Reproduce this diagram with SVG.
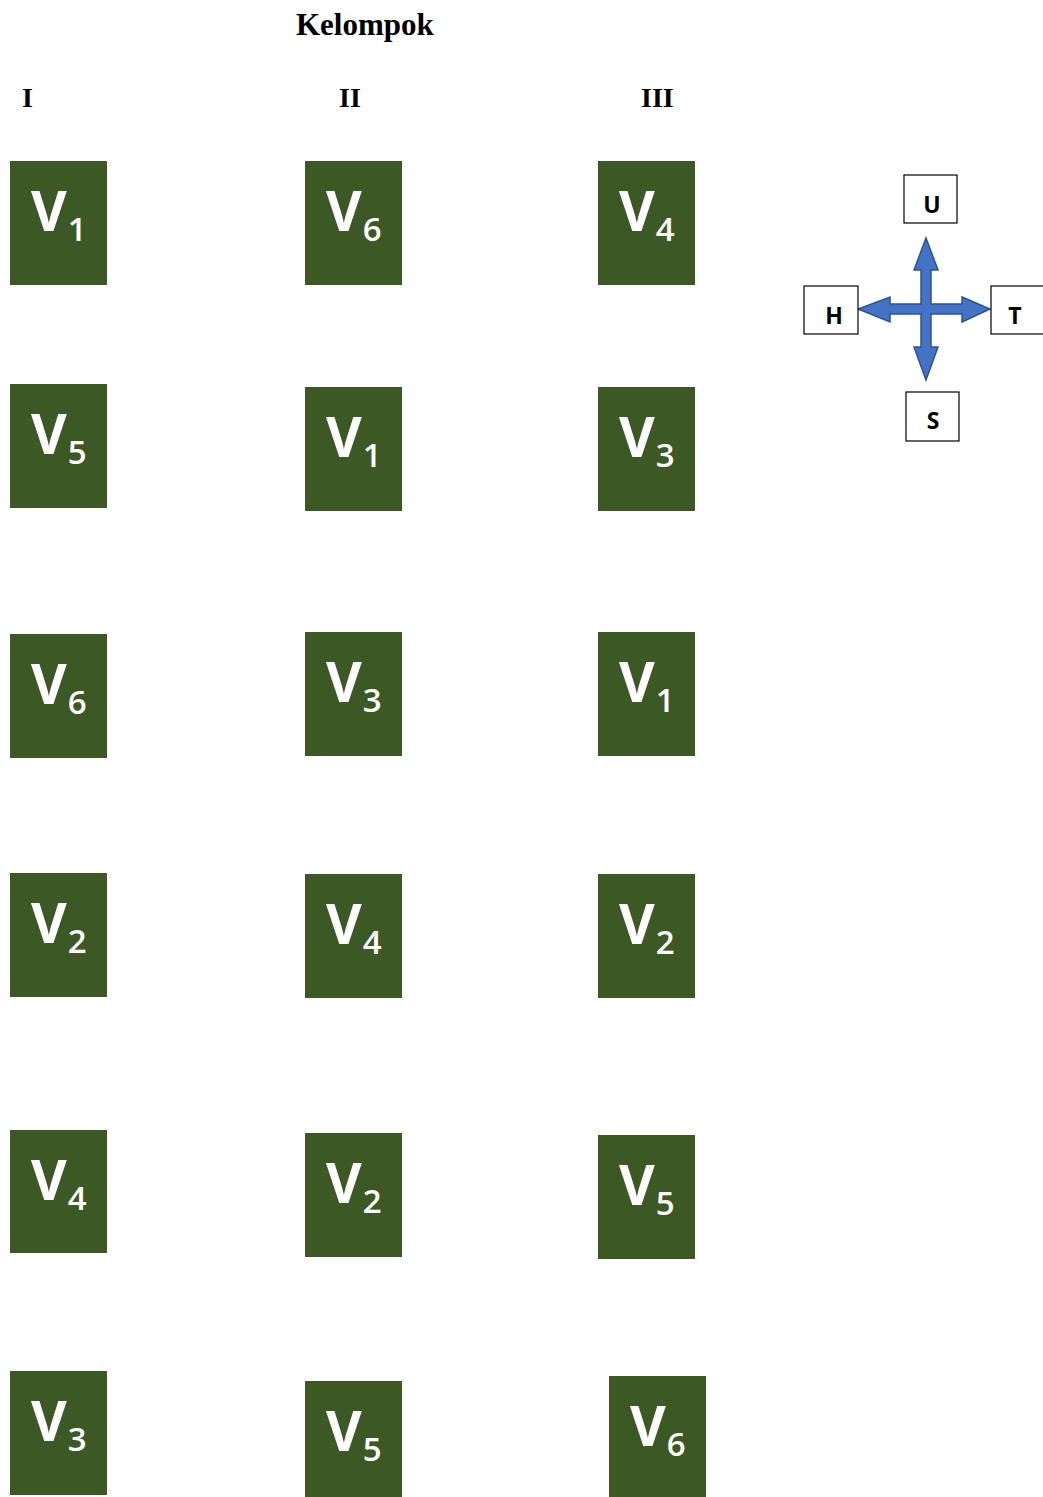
<svg xmlns="http://www.w3.org/2000/svg" width="1043" height="1497" viewBox="0 0 1043 1497">
<style>
.box{fill:#3b5825;}
.v{font-family:"Open Sans","Noto Sans",sans-serif;font-weight:700;font-size:55px;fill:#ffffff;}
.sub{font-weight:600;font-size:33px;}
.hdr{font-family:"Liberation Serif","Times New Roman",serif;font-weight:700;fill:#000;}
.dirbox{fill:#fff;stroke:#000;stroke-width:1.2;}
.dir{font-family:"Open Sans","Noto Sans",sans-serif;font-weight:700;font-size:23px;fill:#000;text-anchor:middle;}
</style>
<rect width="1043" height="1497" fill="#fff"/>
<g id="titles">
<text class="hdr" x="296" y="35" font-size="31">Kelompok</text>
<text class="hdr" x="22" y="107" font-size="28">I</text>
<text class="hdr" x="339" y="107" font-size="28">II</text>
<text class="hdr" x="641" y="107" font-size="28">III</text>
</g>
<g id="c1r1"><rect class="box" x="10" y="161" width="97" height="124"/><text class="v" x="31" y="231">V<tspan class="sub" dx="1" dy="10">1</tspan></text></g>
<g id="c1r2"><rect class="box" x="10" y="384" width="97" height="124"/><text class="v" x="31" y="454">V<tspan class="sub" dx="1" dy="10">5</tspan></text></g>
<g id="c1r3"><rect class="box" x="10" y="634" width="97" height="124"/><text class="v" x="31" y="704">V<tspan class="sub" dx="1" dy="10">6</tspan></text></g>
<g id="c1r4"><rect class="box" x="10" y="873" width="97" height="124"/><text class="v" x="31" y="943">V<tspan class="sub" dx="1" dy="10">2</tspan></text></g>
<g id="c1r5"><rect class="box" x="10" y="1130" width="97" height="123"/><text class="v" x="31" y="1200">V<tspan class="sub" dx="1" dy="10">4</tspan></text></g>
<g id="c1r6"><rect class="box" x="10" y="1371" width="97" height="124"/><text class="v" x="31" y="1441">V<tspan class="sub" dx="1" dy="10">3</tspan></text></g>

<g id="c2r1"><rect class="box" x="305" y="161" width="97" height="124"/><text class="v" x="326" y="231">V<tspan class="sub" dx="1" dy="10">6</tspan></text></g>
<g id="c2r2"><rect class="box" x="305" y="387" width="97" height="124"/><text class="v" x="326" y="457">V<tspan class="sub" dx="1" dy="10">1</tspan></text></g>
<g id="c2r3"><rect class="box" x="305" y="632" width="97" height="124"/><text class="v" x="326" y="702">V<tspan class="sub" dx="1" dy="10">3</tspan></text></g>
<g id="c2r4"><rect class="box" x="305" y="874" width="97" height="124"/><text class="v" x="326" y="944">V<tspan class="sub" dx="1" dy="10">4</tspan></text></g>
<g id="c2r5"><rect class="box" x="305" y="1133" width="97" height="124"/><text class="v" x="326" y="1203">V<tspan class="sub" dx="1" dy="10">2</tspan></text></g>
<g id="c2r6"><rect class="box" x="305" y="1381" width="97" height="124"/><text class="v" x="326" y="1451">V<tspan class="sub" dx="1" dy="10">5</tspan></text></g>

<g id="c3r1"><rect class="box" x="598" y="161" width="97" height="124"/><text class="v" x="619" y="231">V<tspan class="sub" dx="1" dy="10">4</tspan></text></g>
<g id="c3r2"><rect class="box" x="598" y="387" width="97" height="124"/><text class="v" x="619" y="457">V<tspan class="sub" dx="1" dy="10">3</tspan></text></g>
<g id="c3r3"><rect class="box" x="598" y="632" width="97" height="124"/><text class="v" x="619" y="702">V<tspan class="sub" dx="1" dy="10">1</tspan></text></g>
<g id="c3r4"><rect class="box" x="598" y="874" width="97" height="124"/><text class="v" x="619" y="944">V<tspan class="sub" dx="1" dy="10">2</tspan></text></g>
<g id="c3r5"><rect class="box" x="598" y="1135" width="97" height="124"/><text class="v" x="619" y="1205">V<tspan class="sub" dx="1" dy="10">5</tspan></text></g>
<g id="c3r6"><rect class="box" x="609" y="1376" width="97" height="124"/><text class="v" x="630" y="1446">V<tspan class="sub" dx="1" dy="10">6</tspan></text></g>

<g id="compass">
<polygon fill="#4472c4" stroke="#2f528f" stroke-width="1.5" stroke-linejoin="miter" points="926,238 938,270 931,270 931,304 962,304 962,297 990,309 962,322 962,314 931,314 931,347 938,347 926,380 914,347 921,347 921,314 890,314 890,322 858,309 890,297 890,304 921,304 921,270 914,270"/>
</g>
<g id="dirU"><rect class="dirbox" x="904" y="175" width="53" height="48"/><text class="dir" x="932" y="213">U</text></g>
<g id="dirH"><rect class="dirbox" x="804" y="286" width="54" height="48"/><text class="dir" x="834" y="324">H</text></g>
<g id="dirT"><rect class="dirbox" x="991" y="286" width="54" height="48"/><text class="dir" x="1015" y="324">T</text></g>
<g id="dirS"><rect class="dirbox" x="906" y="392" width="53" height="49"/><text class="dir" x="933" y="429">S</text></g>
</svg>
